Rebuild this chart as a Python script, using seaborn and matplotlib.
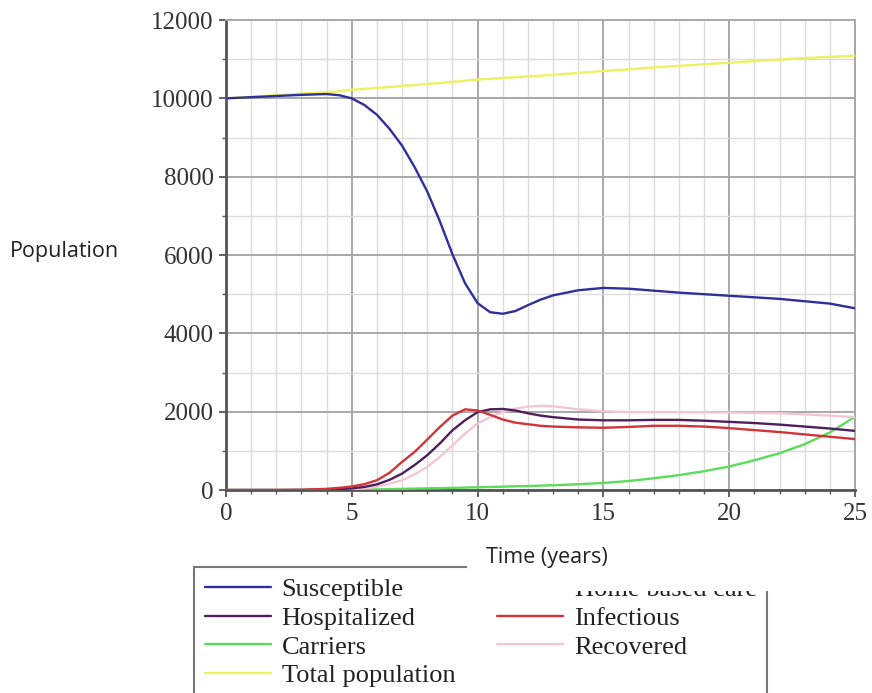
import pandas as pd
import matplotlib.pyplot as plt
import seaborn as sns
from matplotlib.lines import Line2D
from matplotlib.patches import Rectangle
from matplotlib.ticker import MultipleLocator

sns.set_theme(style="white")

# Time points (years)
years = [0, 1, 2, 3, 4, 4.5, 5, 5.5, 6, 6.5, 7, 7.5, 8, 8.5, 9, 9.5, 10, 10.5,
         11, 11.5, 12, 12.5, 13, 14, 15, 16, 17, 18, 19, 20, 21, 22, 23, 24, 25]

susceptible = [10000, 10030, 10060, 10090, 10110, 10080, 10000, 9830, 9580, 9220,
               8790, 8240, 7620, 6860, 6020, 5280, 4770, 4540, 4500, 4570, 4720,
               4860, 4970, 5100, 5160, 5140, 5090, 5040, 5000, 4960, 4920, 4880,
               4820, 4760, 4640]
hospitalized = [0, 0, 0, 3, 15, 25, 40, 80, 145, 260, 420, 640, 890, 1190, 1525,
                1780, 1990, 2060, 2070, 2030, 1960, 1900, 1860, 1800, 1780, 1780,
                1790, 1790, 1770, 1740, 1710, 1670, 1620, 1570, 1510]
carriers = [0, 0, 0, 0, 2, 4, 8, 12, 18, 24, 30, 36, 42, 48, 55, 62, 70, 78, 86,
            94, 102, 112, 122, 148, 180, 230, 300, 380, 480, 600, 760, 940, 1170,
            1470, 1870]
total_population = [10000, 10040, 10080, 10120, 10160, 10180, 10220, 10240, 10270,
                    10290, 10320, 10340, 10370, 10390, 10420, 10450, 10480, 10500,
                    10520, 10540, 10560, 10580, 10600, 10650, 10700, 10740, 10790,
                    10830, 10870, 10910, 10950, 10990, 11030, 11060, 11090]
infectious = [0, 0, 0, 5, 30, 55, 90, 150, 250, 440, 720, 975, 1290, 1610, 1900,
              2060, 2030, 1920, 1800, 1720, 1680, 1640, 1620, 1600, 1590, 1610,
              1640, 1640, 1620, 1580, 1530, 1480, 1420, 1360, 1300]
recovered = [0, 0, 0, 0, 5, 10, 20, 45, 85, 160, 250, 400, 590, 850, 1140, 1440,
             1700, 1860, 1990, 2080, 2130, 2150, 2140, 2060, 2010, 1990, 1990,
             1990, 1985, 1980, 1970, 1960, 1930, 1900, 1860]

series = {
    "Susceptible": susceptible,
    "Hospitalized": hospitalized,
    "Carriers": carriers,
    "Total population": total_population,
    "Infectious": infectious,
    "Recovered": recovered,
}
colors = {
    "Susceptible": "#2f2f9c",
    "Hospitalized": "#4e1f5c",
    "Carriers": "#5bdc5b",
    "Total population": "#f0f060",
    "Infectious": "#d2343a",
    "Recovered": "#f3c6d6",
}

frames = []
for name, vals in series.items():
    frames.append(pd.DataFrame({"Time": years, "Population": vals, "Group": name}))
df = pd.concat(frames, ignore_index=True)

fig = plt.figure(figsize=(8.72, 6.93), dpi=100)
ax = fig.add_axes([0.2592, 0.2929, 0.7213, 0.6782])

draw_order = ["Total population", "Carriers", "Recovered", "Hospitalized",
              "Infectious", "Susceptible"]
sns.lineplot(data=df, x="Time", y="Population", hue="Group", hue_order=draw_order,
             palette=colors, linewidth=1.7, legend=False, ax=ax, zorder=3)

ax.set_xlim(0, 25)
ax.set_ylim(0, 12000)
ax.xaxis.set_major_locator(MultipleLocator(5))
ax.xaxis.set_minor_locator(MultipleLocator(1))
ax.yaxis.set_major_locator(MultipleLocator(2000))
ax.yaxis.set_minor_locator(MultipleLocator(1000))

ax.grid(which="major", color="#a8a8a8", linewidth=1.4)
ax.grid(which="minor", color="#dcdcdc", linewidth=1.0)
ax.set_axisbelow(True)

for side in ["left", "bottom"]:
    ax.spines[side].set_color("#555555")
    ax.spines[side].set_linewidth(2)
for side in ["top", "right"]:
    ax.spines[side].set_color("#a8a8a8")
    ax.spines[side].set_linewidth(1.4)

ax.tick_params(which="major", direction="out", length=5, width=1.3, color="#555555",
               left=True, bottom=True, labelsize=18, labelcolor="#333333", pad=4)
ax.tick_params(which="minor", direction="out", length=3, width=1.0, color="#555555",
               left=True, bottom=True)
for lab in ax.get_xticklabels() + ax.get_yticklabels():
    lab.set_family("Liberation Serif")

ax.set_xlabel("")
ax.set_ylabel("")
fig.text(10 / 872, 1 - 251 / 693, "Population", fontsize=15.5, family="Open Sans",
         color="#222222", ha="left", va="center")

# Legend
names = ["Susceptible", "Hospitalized", "Carriers", "Total population",
         "Home based care", "Infectious", "Recovered"]
handles = []
for n in names:
    if n == "Home based care":
        handles.append(Line2D([], [], color="none", linewidth=1.7))
    else:
        handles.append(Line2D([], [], color=colors[n], linewidth=1.7))
leg = fig.legend(handles, names, ncol=2, loc="upper left",
                 bbox_to_anchor=(194 / 872, 1 - 567 / 693),
                 prop={"family": "Liberation Serif", "size": 19},
                 frameon=True, fancybox=False, handlelength=2.5, handletextpad=0.42,
                 columnspacing=1.6, labelspacing=0.2, borderpad=0.4,
                 borderaxespad=0)
leg.get_frame().set_edgecolor("#555555")
leg.get_frame().set_linewidth(1.5)
for t in leg.get_texts():
    t.set_color("#222222")
leg.set_zorder(5)

# white patch behind the x label, covering part of the legend
fig.add_artist(Rectangle((467 / 872, 1 - 591 / 693), (800 - 467) / 872, 52 / 693,
                         transform=fig.transFigure, facecolor="white",
                         edgecolor="none", zorder=10))
fig.text(547 / 872, 1 - 557 / 693, "Time (years)", fontsize=15.5, family="Open Sans",
         color="#222222", ha="center", va="center", zorder=11)

fig.savefig("out.png", dpi=100)
